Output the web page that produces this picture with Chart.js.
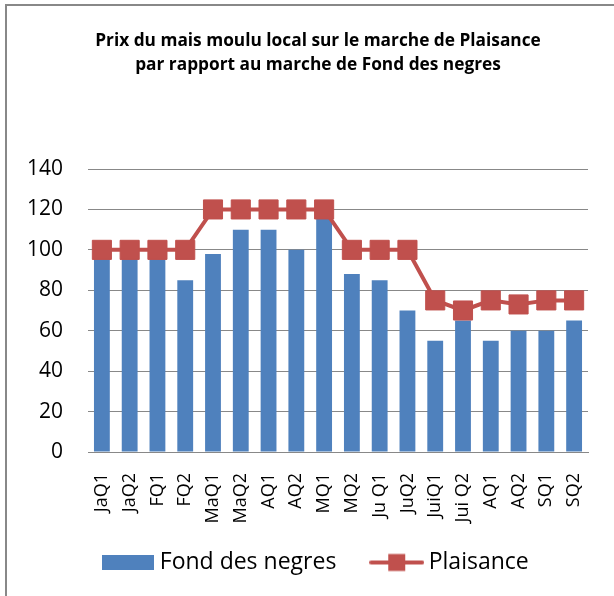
<!DOCTYPE html>
<html>
<head>
<meta charset="utf-8">
<script src="https://cdn.jsdelivr.net/npm/chart.js@4/dist/chart.umd.min.js"></script>
<style>
  body { margin: 0; background: #fff; }
  #wrap { position: relative; width: 614px; height: 596px; }
  #cadre {
    position: absolute; left: 5px; top: 4px; width: 609px; height: 592px;
    box-sizing: border-box; border-left: 2px solid #888; border-top: 2px solid #888;
    pointer-events: none;
  }
</style>
</head>
<body>
<div id="wrap">
  <canvas id="graphique" width="614" height="596"></canvas>
  <div id="cadre"></div>
</div>
<script>
// --- données ---
const categories = ["JaQ1", "JaQ2", "FQ1", "FQ2", "MaQ1", "MaQ2", "AQ1", "AQ2", "MQ1", "MQ2",
  "Ju Q1", "JuQ2", "JuiQ1", "Jui Q2", "AQ1", "AQ2", "SQ1", "SQ2"];
const fondDesNegres = [98, 98, 98, 85, 98, 110, 110, 100, 117, 88, 85, 70, 55, 65, 55, 60, 60, 65];
const plaisance = [100, 100, 100, 100, 120, 120, 120, 120, 120, 100, 100, 100, 75, 70, 75, 73, 75, 75];
const titre = ["Prix du mais moulu local sur le marche de Plaisance", "par rapport au marche de Fond des negres"];

const BLEU = "#4F81BD";
const ROUGE = "#C0504D";
const GRILLE = "#888888";
const police = "'Open Sans', 'DejaVu Sans', sans-serif";

// petites images pour la légende
const iconeBarre = (() => {
  const c = document.createElement("canvas");
  c.width = 52; c.height = 15;
  const g = c.getContext("2d");
  g.fillStyle = BLEU;
  g.fillRect(0, 0, 52, 15);
  return c;
})();
const iconeLigne = (() => {
  const c = document.createElement("canvas");
  c.width = 55; c.height = 20;
  const g = c.getContext("2d");
  g.strokeStyle = ROUGE; g.lineWidth = 4; g.lineCap = "round";
  g.beginPath(); g.moveTo(2, 10); g.lineTo(53, 10); g.stroke();
  g.fillStyle = ROUGE;
  g.fillRect(19, 1.5, 17, 17);
  return c;
})();

new Chart(document.getElementById("graphique"), {
  data: {
    labels: categories,
    datasets: [
      {
        type: "line",
        label: "Plaisance",
        data: plaisance,
        borderColor: ROUGE,
        backgroundColor: ROUGE,
        borderWidth: 4,
        pointStyle: "rect",
        pointRadius: 13.5,
        pointBorderWidth: 1,
        pointBackgroundColor: ROUGE,
        pointBorderColor: ROUGE,
        tension: 0,
        order: 0
      },
      {
        type: "bar",
        label: "Fond des negres",
        data: fondDesNegres,
        backgroundColor: BLEU,
        borderWidth: 0,
        barPercentage: 0.57,
        categoryPercentage: 1,
        order: 1
      }
    ]
  },
  options: {
    responsive: false,
    devicePixelRatio: 1,
    animation: false,
    layout: { padding: { left: 24, right: 2, top: 0, bottom: 12 } },
    plugins: {
      tooltip: { enabled: false },
      title: {
        display: true,
        text: titre,
        color: "#000",
        font: { family: police, size: 17.3, weight: "bold", lineHeight: 24 / 17.3 },
        padding: { top: 29, bottom: 92 }
      },
      legend: {
        position: "bottom",
        labels: {
          color: "#000",
          font: { family: police, size: 23 },
          usePointStyle: true,
          pointStyleWidth: 41,
          padding: 10,
          generateLabels: () => [
            { text: "Fond des negres     ", pointStyle: iconeBarre, fillStyle: BLEU, strokeStyle: BLEU, lineWidth: 0, hidden: false, datasetIndex: 1, fontColor: "#000" },
            { text: "Plaisance", pointStyle: iconeLigne, fillStyle: ROUGE, strokeStyle: ROUGE, lineWidth: 0, hidden: false, datasetIndex: 0, fontColor: "#000" }
          ]
        }
      }
    },
    scales: {
      x: {
        grid: { display: false },
        border: { color: GRILLE },
        ticks: {
          color: "#000",
          autoSkip: false,
          maxRotation: 90,
          minRotation: 90,
          padding: 13,
          font: { family: police, size: 18 }
        },
        afterFit: s => { s.height = 89; }
      },
      y: {
        min: 0,
        max: 140,
        grid: { color: GRILLE, drawTicks: false },
        border: { display: false },
        ticks: {
          stepSize: 20,
          color: "#000",
          padding: 25,
          font: { family: police, size: 21 }
        },
        afterFit: s => { s.width = 64; }
      },
      // axe vide à droite, juste pour centrer titre et légende comme l'original
      y2: {
        position: "right",
        display: true,
        grid: { display: false },
        border: { display: false },
        ticks: { display: false },
        afterFit: s => { s.width = 24; }
      }
    }
  }
});
</script>
</body>
</html>
